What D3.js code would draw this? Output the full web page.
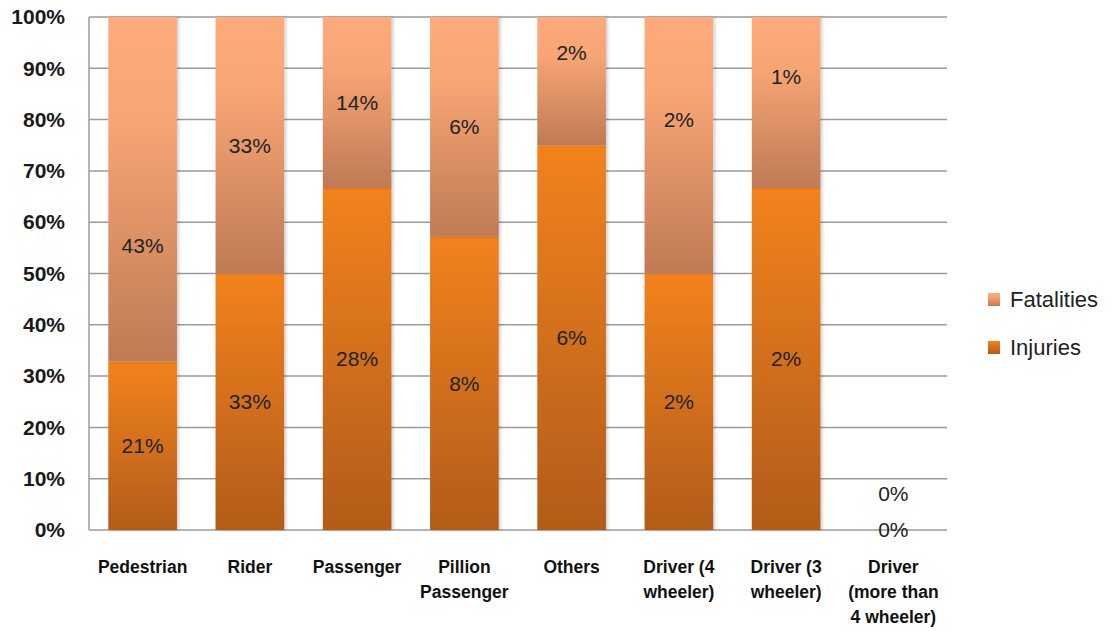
<!DOCTYPE html>
<html>
<head>
<meta charset="utf-8">
<script src="https://cdn.jsdelivr.net/npm/d3@7/dist/d3.min.js"></script>
<style>
  body { margin: 0; background: #fff; }
  text { font-family: "Liberation Sans", Arial, sans-serif; }
</style>
</head>
<body>
<script>
// data (labels are shares of all casualties)
var categories = ["Pedestrian", "Rider", "Passenger", "Pillion Passenger", "Others",
                  "Driver (4 wheeler)", "Driver (3 wheeler)", "Driver (more than 4 wheeler)"];
var categoryLines = [["Pedestrian"], ["Rider"], ["Passenger"], ["Pillion", "Passenger"], ["Others"],
                     ["Driver (4", "wheeler)"], ["Driver (3", "wheeler)"], ["Driver", "(more than", "4 wheeler)"]];
var injuries   = [21, 33, 28, 8, 6, 2, 2, 0];
var fatalities = [43, 33, 14, 6, 2, 2, 1, 0];
var yTicks = [0, 10, 20, 30, 40, 50, 60, 70, 80, 90, 100];
var seriesNames = ["Fatalities", "Injuries"];

// manual label nudges (percentage points), as in the original chart
var fatalNudge = [-11, 0, 0, 0, 5.5, 5, 5, 7];

var w = 1116, h = 631;
var padL = 89, padR = 947, padT = 17, padB = 530;

var svg = d3.select("body").append("svg").attr("width", w).attr("height", h);
var defs = svg.append("defs");

var gInj = defs.append("linearGradient").attr("id", "gInj")
  .attr("x1", 0).attr("y1", 0).attr("x2", 0).attr("y2", 1);
gInj.append("stop").attr("offset", 0).attr("stop-color", "#F2821F");
gInj.append("stop").attr("offset", 1).attr("stop-color", "#B25C19");

var gFat = defs.append("linearGradient").attr("id", "gFat")
  .attr("x1", 0).attr("y1", 0).attr("x2", 0).attr("y2", 1);
gFat.append("stop").attr("offset", 0).attr("stop-color", "#FDAB7A");
gFat.append("stop").attr("offset", 0.3).attr("stop-color", "#F7A574");
gFat.append("stop").attr("offset", 1).attr("stop-color", "#BF7A55");

var shadow = defs.append("filter").attr("id", "shadow")
  .attr("x", "-20%").attr("y", "-5%").attr("width", "140%").attr("height", "110%");
shadow.append("feDropShadow").attr("dx", 2).attr("dy", 0).attr("stdDeviation", 1.5)
  .attr("flood-color", "#000").attr("flood-opacity", 0.18);

var x = d3.scaleBand().domain(categories).range([padL, padR]).paddingInner(0.36).paddingOuter(0.18);
var y = d3.scaleLinear().domain([0, 100]).range([padB, padT]);

// gridlines
svg.append("g").selectAll("line").data(yTicks).enter().append("line")
  .attr("x1", padL).attr("x2", padR)
  .attr("y1", function(d) { return y(d); }).attr("y2", function(d) { return y(d); })
  .attr("stroke", "#9b9b9b").attr("stroke-width", 1.5);

// y axis line
svg.append("line").attr("x1", padL).attr("x2", padL).attr("y1", padT).attr("y2", padB)
  .attr("stroke", "#9b9b9b").attr("stroke-width", 1.5);

var yAxis = svg.append("g").attr("transform", "translate(" + padL + ",0)")
  .call(d3.axisLeft(y).tickValues(yTicks).tickSize(0).tickPadding(24)
    .tickFormat(function(d) { return d + "%"; }));
yAxis.select(".domain").remove();
yAxis.selectAll("text").attr("font-size", 21).attr("font-weight", "bold")
  .attr("fill", "#1a1a1a").style("font-family", "'Liberation Sans', Arial, sans-serif");

var rows = categories.map(function(c, i) {
  var t = injuries[i] + fatalities[i];
  var ip = t ? injuries[i] / t * 100 : 0;
  return { cat: c, i: i, inj: ip, fat: t ? 100 - ip : 0 };
});

var bars = svg.append("g");
rows.forEach(function(r) {
  if (r.inj > 0) {
    bars.append("rect").attr("x", x(r.cat)).attr("width", x.bandwidth())
      .attr("y", y(r.inj)).attr("height", y(0) - y(r.inj))
      .attr("fill", "url(#gInj)").attr("filter", "url(#shadow)");
  }
  if (r.fat > 0) {
    bars.append("rect").attr("x", x(r.cat)).attr("width", x.bandwidth())
      .attr("y", y(100)).attr("height", y(r.inj) - y(100))
      .attr("fill", "url(#gFat)").attr("filter", "url(#shadow)");
  }
});

// data labels
var lab = svg.append("g").attr("font-size", 21).attr("fill", "#222").attr("text-anchor", "middle");
rows.forEach(function(r) {
  var cx = x(r.cat) + x.bandwidth() / 2;
  lab.append("text").attr("x", cx).attr("y", y(r.inj / 2)).attr("dy", "0.35em")
    .text(injuries[r.i] + "%");
  lab.append("text").attr("x", cx).attr("y", y(r.inj + r.fat / 2 + fatalNudge[r.i])).attr("dy", "0.35em")
    .text(fatalities[r.i] + "%");
});

// x labels
var xl = svg.append("g").attr("font-size", 17.5).attr("font-weight", "bold")
  .attr("fill", "#111").attr("text-anchor", "middle");
categories.forEach(function(c, i) {
  var t = xl.append("text").attr("x", x(c) + x.bandwidth() / 2).attr("y", 573);
  categoryLines[i].forEach(function(line, k) {
    t.append("tspan").attr("x", x(c) + x.bandwidth() / 2).attr("dy", k ? 25 : 0).text(line);
  });
});

// legend
var leg = svg.append("g").attr("transform", "translate(988,293)");
seriesNames.forEach(function(s, i) {
  var g = leg.append("g").attr("transform", "translate(0," + (i * 48) + ")");
  g.append("rect").attr("width", 12).attr("height", 13)
    .attr("fill", s === "Fatalities" ? "url(#gFat)" : "url(#gInj)");
  g.append("text").attr("x", 22).attr("y", 14).attr("font-size", 22).attr("fill", "#222").text(s);
});
</script>
</body>
</html>
